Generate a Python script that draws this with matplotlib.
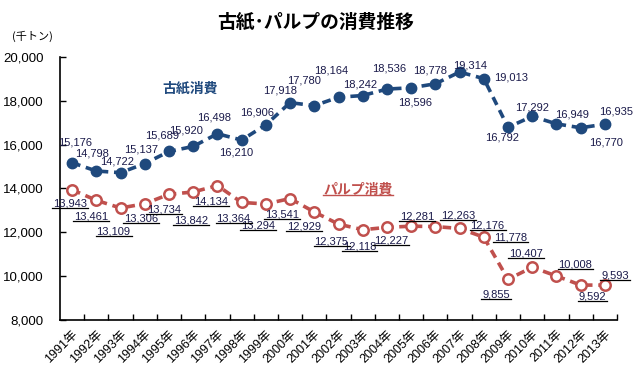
import matplotlib
matplotlib.use("Agg")
import matplotlib.pyplot as plt
from matplotlib.lines import Line2D
from matplotlib.transforms import IdentityTransform

plt.rcParams['font.family'] = ['Liberation Sans', 'Noto Sans CJK JP']

years = [f"{y}年" for y in range(1991, 2014)]
kami = [15176, 14798, 14722, 15137, 15689, 15920, 16498, 16210, 16906, 17918, 17780, 18164,
        18242, 18536, 18596, 18778, 19314, 19013, 16792, 17292, 16949, 16770, 16935]
pulp = [13943, 13461, 13109, 13306, 13734, 13842, 14134, 13364, 13294, 13541, 12929, 12375,
        12118, 12227, 12281, 12263, 12176, 11778, 9855, 10407, 10008, 9592, 9593]

# label offsets from the point in pixels (dx, dy), dy measured downward
kami_off = [(3, -20), (-4, -18), (-3, -11), (-4, -14), (-7, -16), (-7, -16), (-3, -16), (-5, 12),
            (-9, -12), (-10, -12), (-10, -25), (-7, -27), (-3, -11), (2, -21), (4, 15), (-5, -13),
            (11, -7), (27, -1), (-6, 10), (0, -9), (16, -9), (25, 15), (11, -13)]
pulp_off = [(-2, 14), (-5, 16), (-7, 23), (-4, 15), (-5, 15), (-2, 29), (-6, 16), (-8, 16),
            (-8, 22), (-8, 16), (-10, 15), (-7, 17), (-3, 17), (4, 13), (6, -10), (23, -11),
            (28, -3), (27, 0), (-12, 15), (-6, -14), (19, -11), (12, 11), (10, -10)]

blue = '#1F497D'
red = '#C0504D'
lab_col = '#1a1a4a'

fig = plt.figure(figsize=(6.38, 3.76), dpi=100)
ax = fig.add_axes([60 / 638, 1 - 320 / 376, 557 / 638, 263 / 376])

x = list(range(len(years)))
ax.plot(x, kami, color=blue, lw=2.6, dashes=(2.4, 1.6), marker='o', ms=7.5,
        mfc=blue, mec=blue, zorder=3)
ax.plot(x, pulp, color=red, lw=2.6, dashes=(2.4, 1.6), marker='o', ms=7.5,
        mfc='white', mec=red, mew=1.8, zorder=3)

ax.set_xlim(-0.5, len(years) - 0.5)
ax.set_ylim(8000, 20000)
ax.set_yticks(range(8000, 20001, 2000))
ax.set_yticklabels([f"{v:,}" for v in range(8000, 20001, 2000)], fontsize=9.5)
ax.tick_params(axis='y', direction='in', length=4, width=1, pad=12)

ax.set_xticks(x)
ax.set_xticklabels(years, rotation=45, ha='right', va='top', rotation_mode='anchor', fontsize=9)
ax.set_xticks([i + 0.5 for i in x], minor=True)
ax.tick_params(axis='x', which='major', length=0, pad=6)
ax.tick_params(axis='x', which='minor', direction='in', length=4, width=1)

for s in ['top', 'right']:
    ax.spines[s].set_visible(False)
for s in ['left', 'bottom']:
    ax.spines[s].set_linewidth(1.2)

for i, v in enumerate(kami):
    dx, dy = kami_off[i]
    ax.annotate(f"{v:,}", (i, v), xytext=(dx, -dy), textcoords='offset pixels',
                ha='center', va='center', fontsize=8, color=lab_col)

pulp_texts = []
for i, v in enumerate(pulp):
    dx, dy = pulp_off[i]
    t = ax.annotate(f"{v:,}", (i, v), xytext=(dx, -dy), textcoords='offset pixels',
                    ha='center', va='center', fontsize=8, color=lab_col)
    pulp_texts.append(t)

ax.text(4.87, 18580, "古紙消費", color=blue, fontsize=10, fontweight='bold',
        ha='center', va='center', family=['Noto Sans CJK JP'])
pt = ax.text(11.81, 13950, "パルプ消費", color=red, fontsize=10, fontweight='bold',
             ha='center', va='center', family=['Noto Sans CJK JP'])

fig.text(316 / 638, 1 - 22 / 376, "古紙･パルプの消費推移", fontsize=13.5, fontweight='bold',
         ha='center', va='center', family=['Noto Sans CJK JP'])
fig.text(32 / 638, 1 - 36 / 376, "(千トン)", fontsize=8, ha='center', va='center',
         family=['Noto Sans CJK JP'])

# underlines under the pulp labels
fig.canvas.draw()
renderer = fig.canvas.get_renderer()
for t in pulp_texts:
    bb = t.get_window_extent(renderer)
    fig.add_artist(Line2D([bb.x0 - 1, bb.x1 + 1], [bb.y0 + 0.5, bb.y0 + 0.5],
                          color='black', lw=0.9, transform=IdentityTransform()))
bb = pt.get_window_extent(renderer)
fig.add_artist(Line2D([bb.x0, bb.x1], [bb.y0 + 1.5, bb.y0 + 1.5],
                      color=red, lw=1.0, transform=IdentityTransform()))

fig.savefig("out.png", dpi=100)
